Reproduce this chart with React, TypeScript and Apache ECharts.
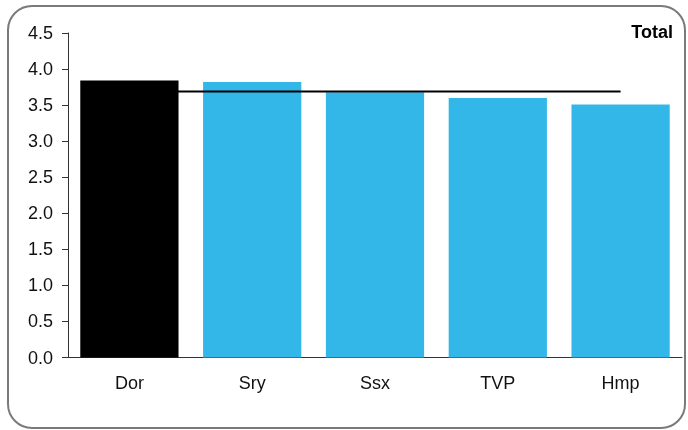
import React, { useEffect, useRef } from "react";
import * as echarts from "echarts";

const categories = ["Dor", "Sry", "Ssx", "TVP", "Hmp"];
const barValues = [3.84, 3.82, 3.68, 3.6, 3.51];
const barColors = ["#000000", "#33b7e8", "#33b7e8", "#33b7e8", "#33b7e8"];
const totalValue = 3.69;
const lineValues = categories.map(() => totalValue);
const titleText = "Total";

export default function App() {
  const ref = useRef<HTMLDivElement>(null);
  useEffect(() => {
    if (!ref.current) return;
    const chart = echarts.init(ref.current, null, { renderer: "svg" });
    const font = "Liberation Sans, Arial, sans-serif";
    chart.setOption({
      animation: false,
      textStyle: { fontFamily: font },
      graphic: [
        {
          type: "rect",
          shape: { x: 8, y: 6, width: 677, height: 422, r: 24 },
          style: { fill: "none", stroke: "#7a7a7a", lineWidth: 2 },
          z: -1,
        },
        {
          type: "text",
          right: 15,
          top: 23,
          style: { text: titleText, font: `bold 18px ${font}`, fill: "#000" },
        },
      ],
      grid: { left: 68, right: 6, top: 33, bottom: 72.5, containLabel: false },
      xAxis: {
        type: "category",
        data: categories,
        axisLine: { lineStyle: { color: "#333", width: 1 } },
        axisTick: { show: false },
        axisLabel: { color: "#111", fontSize: 18, margin: 16, fontFamily: font },
      },
      yAxis: {
        type: "value",
        min: 0,
        max: 4.5,
        interval: 0.5,
        splitLine: { show: false },
        axisLine: { show: true, lineStyle: { color: "#333", width: 1 } },
        axisTick: { show: true, length: 6, lineStyle: { color: "#333" } },
        axisLabel: {
          color: "#111",
          fontSize: 18,
          margin: 15,
          fontFamily: font,
          formatter: (v: number) => v.toFixed(1),
        },
      },
      series: [
        {
          type: "bar",
          data: barValues.map((v, i) => ({ value: v, itemStyle: { color: barColors[i] } })),
          barCategoryGap: "20%",
          z: 2,
        },
        {
          type: "line",
          data: lineValues,
          symbol: "none",
          lineStyle: { color: "#000", width: 2 },
          z: 3,
        },
      ],
    });
    return () => chart.dispose();
  }, []);
  return (
    <div
      ref={ref}
      style={{ position: "fixed", left: 0, top: 0, width: 688, height: 430 }}
    />
  );
}
